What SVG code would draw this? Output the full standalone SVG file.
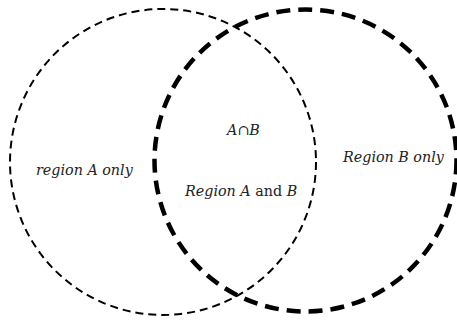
<svg xmlns="http://www.w3.org/2000/svg" width="457" height="320" viewBox="0 0 457 320">
  <style>
    .set { fill: none; stroke: #000; }
    .thin { stroke-width: 2; stroke-dasharray: 8 5; }
    .thick { stroke-width: 4.5; stroke-dasharray: 14 8; }
    text { font-family: "DejaVu Serif", "Liberation Serif", serif; font-size: 14.3px; fill: #222; }
    .it { font-style: italic; }
  </style>
  <rect width="457" height="320" fill="#fff"/>
  <g id="setA">
    <circle class="set thin" cx="163" cy="162" r="153"/>
  </g>
  <g id="setB">
    <circle class="set thick" cx="305.5" cy="160.5" r="151"/>
  </g>
  <g id="labels">
    <text class="it" x="36" y="175">region A only</text>
    <text class="it" x="343" y="162">Region B only</text>
    <text class="it" x="227" y="135">A∩B</text>
    <text x="185" y="196"><tspan class="it">Region A</tspan> and <tspan class="it">B</tspan></text>
  </g>
</svg>
